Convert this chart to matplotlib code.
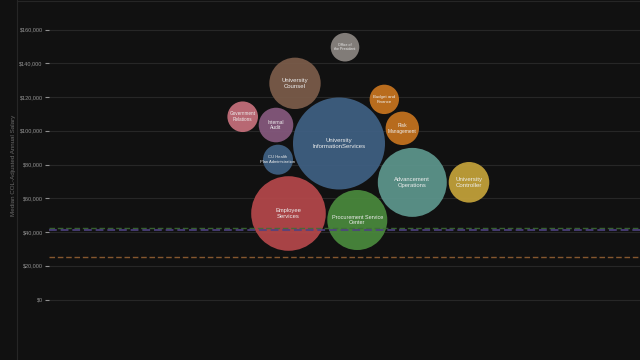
import matplotlib
matplotlib.use("Agg")
import matplotlib.pyplot as plt
from matplotlib.ticker import FuncFormatter
import numpy as np

plt.rcParams["font.family"] = ["Liberation Sans", "DejaVu Sans"]

# ---- data ----
departments = [
    "Office of\nthe President", "University\nCounsel", "Budget and\nFinance",
    "Risk\nManagement", "Government\nRelations", "Internal\nAudit",
    "University\nInformationServices", "CU Health\nPlan Administration",
    "Employee\nServices", "Procurement Service\nCenter",
    "Advancement\nOperations", "University\nController",
]
median_salary = [149500, 128100, 118600, 101450, 108300, 103400,
                 92450, 82850, 50960, 47100, 69400, 69450]
layout_x = [345, 295, 384.3, 402.3, 242.7, 276, 339, 278, 288.5, 357.3, 412.3, 469]
headcount = [204, 660, 216, 279, 234, 299, 2116, 225, 1391, 900, 1190, 412]
colors = ["#8b8581", "#7b5c4a", "#c7741f", "#c5731f", "#c6707b", "#86597e",
          "#3f6083", "#3f6083", "#b5484b", "#4a893d", "#5d968d", "#c4a23a"]
label_sizes = [2.6, 4.3, 3.2, 3.5, 3.3, 3.55, 4.3, 3.0, 4.25, 4.0, 4.2, 4.4]

ref_levels = [42400, 40900, 24900]
ref_colors = ["#3d6e36", "#4e4282", "#9a6434"]
ref_widths = [1.0, 1.4, 1.0]

yticks = [0, 20000, 40000, 60000, 80000, 100000, 120000, 140000, 160000]

# ---- figure ----
W, H, DPI = 640, 360, 100
fig = plt.figure(figsize=(W / DPI, H / DPI), dpi=DPI, facecolor="#111111")
ax = fig.add_axes([49 / W, 0, (W - 49) / W, 1])
ax.set_facecolor("#111111")

px_per_unit = 1.6875 / 1000.0
ax.set_ylim(-(360 - 299.5) / px_per_unit, 299.5 / px_per_unit)
ax.set_xlim(49, 640)

for lvl in yticks:
    ax.axhline(lvl, color="#272727", lw=0.8, zorder=0)

for lvl, c, w in zip(ref_levels, ref_colors, ref_widths):
    ax.axhline(lvl, color=c, lw=w, ls=(0, (4, 2)), zorder=3.5, alpha=0.85)

# bubble radius in px: 46px for the largest
rmax = 46.0
radii_px = [rmax * np.sqrt(h / max(headcount)) for h in headcount]
sizes = [(2 * r * 72 / DPI) ** 2 for r in radii_px]
ax.scatter(layout_x, median_salary, s=sizes, c=colors, edgecolors="none",
           alpha=0.93, zorder=3)

for x, y, lab, fs in zip(layout_x, median_salary, departments, label_sizes):
    ax.text(x, y, lab, ha="center", va="center", fontsize=fs, color="#eeeeee",
            linespacing=1.15, zorder=4)

ax.set_yticks(yticks)
ax.yaxis.set_major_formatter(FuncFormatter(lambda v, p: f"${int(v):,}"))
ax.tick_params(axis="y", colors="#909090", labelsize=4, length=3, width=0.8,
               pad=1.5, labelcolor="#929292")
ax.set_xticks([])
for s in ax.spines.values():
    s.set_visible(False)

fig.text(14 / W, 1 - 165 / H, "Median COL-Adjusted Annual Salary", rotation=90,
         ha="center", va="center", fontsize=4.5, color="#6a6a6a")

# frame lines
fig.add_artist(plt.Line2D([16.5 / W, 16.5 / W], [0, 1], color="#262626", lw=0.8))
fig.add_artist(plt.Line2D([16.5 / W, 1], [1 - 1 / H, 1 - 1 / H], color="#262626", lw=0.8))

fig.savefig("out.png", dpi=DPI, facecolor=fig.get_facecolor())
